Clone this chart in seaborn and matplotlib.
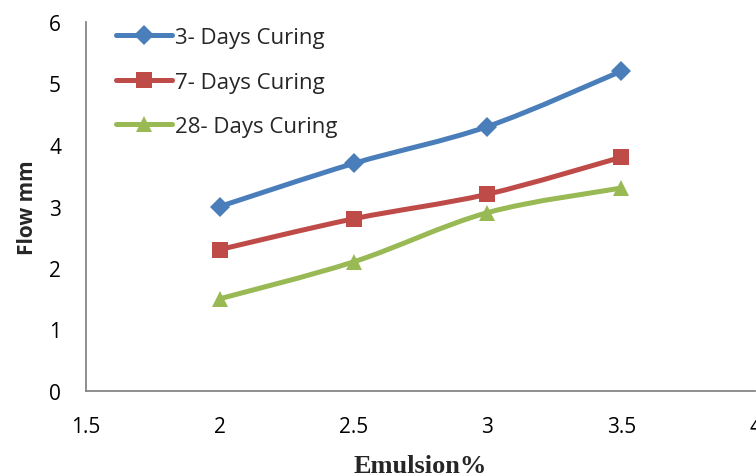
import numpy as np
import pandas as pd
import matplotlib
matplotlib.use("Agg")
import matplotlib.pyplot as plt
from matplotlib.path import Path
from matplotlib.patches import PathPatch
from matplotlib.lines import Line2D
import seaborn as sns

emulsion = [2, 2.5, 3, 3.5]
days3 = [3.0, 3.7, 4.3, 5.2]
days7 = [2.3, 2.8, 3.2, 3.8]
days28 = [1.5, 2.1, 2.9, 3.3]
series_names = ["3- Days Curing", "7- Days Curing", "28- Days Curing"]
x_ticks = [1.5, 2, 2.5, 3, 3.5, 4]
y_ticks = [0, 1, 2, 3, 4, 5, 6]

colors = ["#4A7EBB", "#BE4B48", "#98B954"]
markers = ["D", "s", "^"]
msizes = [10, 12, 12]

sns.set_theme(style="white")
plt.rcParams["font.family"] = ["Open Sans", "DejaVu Sans"]

df = pd.concat([
    pd.DataFrame({"Emulsion": emulsion, "Flow": vals, "Series": name})
    for name, vals in zip(series_names, [days3, days7, days28])
])

fig = plt.figure(figsize=(7.56, 4.77), dpi=100)
ax = fig.add_axes([86/756, 1-392/477, (755-86)/756, (392-23)/477])


def smooth_path(xs, ys):
    pts = np.column_stack([xs, ys]).astype(float)
    n = len(pts)
    verts = [pts[0]]
    codes = [Path.MOVETO]
    for i in range(n - 1):
        p0 = pts[i - 1] if i > 0 else pts[i]
        p1 = pts[i]
        p2 = pts[i + 1]
        p3 = pts[i + 2] if i + 2 < n else pts[i + 1]
        c1 = p1 + (p2 - p0) / 6
        c2 = p2 - (p3 - p1) / 6
        verts += [c1, c2, p2]
        codes += [Path.CURVE4] * 3
    return Path(verts, codes)


for name, col in zip(series_names, colors):
    sub = df[df["Series"] == name]
    ax.add_patch(PathPatch(smooth_path(sub["Emulsion"], sub["Flow"]),
                           facecolor="none", edgecolor=col, lw=3.6,
                           capstyle="round", joinstyle="round", zorder=2))

sns.lineplot(data=df, x="Emulsion", y="Flow", hue="Series", style="Series",
             palette=dict(zip(series_names, colors)),
             markers=dict(zip(series_names, markers)),
             dashes=False, lw=0, ax=ax, legend=False, zorder=3)
for ln, ms in zip(ax.lines, msizes):
    ln.set_markersize(ms)
    ln.set_markeredgewidth(0)

ax.set_xlim(1.5, 4)
ax.set_ylim(0, 6)
ax.set_xticks(x_ticks)
ax.set_xticklabels(["1.5", "2", "2.5", "3", "3.5", "4"])
ax.set_yticks(y_ticks)
for s in ["top", "right"]:
    ax.spines[s].set_visible(False)
for s in ["left", "bottom"]:
    ax.spines[s].set_color("#868686")
    ax.spines[s].set_linewidth(1.3)
ax.tick_params(axis="both", direction="in", length=7, width=1.3,
               color="#868686", labelsize=15, labelcolor="black")
ax.tick_params(axis="y", pad=18)
ax.tick_params(axis="x", pad=18)

ax.set_xlabel("Emulsion%", fontsize=19, fontweight="bold",
              family="Liberation Serif", labelpad=12)
ax.set_ylabel("Flow mm", fontsize=15, fontweight="bold", labelpad=8)

handles = [Line2D([0], [0], color=c, lw=3.6, marker=m, markersize=ms,
                  markeredgewidth=0)
           for c, m, ms in zip(colors, markers, msizes)]
ax.legend(handles, series_names, loc="upper left", bbox_to_anchor=(0.015, 1.04),
          frameon=False, fontsize=16, handlelength=2.5, handletextpad=0.15,
          labelspacing=1.05)

fig.savefig("out.png", dpi=100)
